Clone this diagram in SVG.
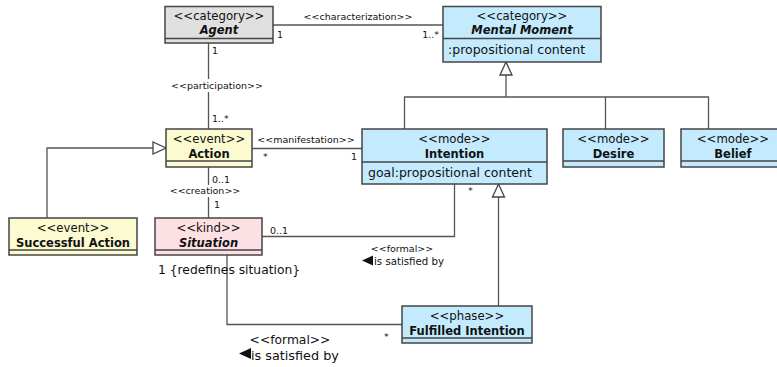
<svg xmlns="http://www.w3.org/2000/svg" width="777" height="367" viewBox="0 0 777 367">
<style>
text{font-family:"DejaVu Sans","Liberation Sans",sans-serif;fill:#111}
.st{font-size:11.7px;text-anchor:middle}
.nm{font-size:11.5px;font-weight:bold;text-anchor:middle}
.it{font-style:italic}
.at{font-size:12.5px}
.lb{font-size:9.5px}
.lbc{font-size:9.5px;text-anchor:middle}
.big{font-size:12.3px}
.box{stroke:#444;stroke-width:1.5}
.gray{fill:#e0e0e0}
.blue{fill:#c3ebfd}
.yel{fill:#fbfad0}
.pink{fill:#fde0e3}
.ln{fill:none;stroke:#555;stroke-width:1.3}
.tri{fill:#fff;stroke:#444;stroke-width:1.3}
</style>
<rect width="777" height="367" fill="#fff"/>
<g id="connectors">
  <line class="ln" x1="273" y1="25" x2="443" y2="25"/>
  <text class="lbc" x="358" y="20">&lt;&lt;characterization&gt;&gt;</text>
  <text class="lb" x="277" y="38">1</text>
  <text class="lb" x="439" y="38" text-anchor="end">1..*</text>
  <line class="ln" x1="208.5" y1="43" x2="208.5" y2="129"/>
  <rect x="170" y="79" width="94" height="13" fill="#fff"/>
  <text class="lbc" x="217" y="89">&lt;&lt;participation&gt;&gt;</text>
  <text class="lb" x="212" y="54">1</text>
  <text class="lb" x="212" y="122">1..*</text>
  <line class="ln" x1="252" y1="148.5" x2="362" y2="148.5"/>
  <text class="lbc" x="306" y="143">&lt;&lt;manifestation&gt;&gt;</text>
  <text class="lb" x="263" y="160">*</text>
  <text class="lb" x="351" y="160">1</text>
  <line class="ln" x1="208.5" y1="167" x2="208.5" y2="218"/>
  <rect x="169" y="185" width="72" height="12" fill="#fff"/>
  <text class="lbc" x="205" y="194">&lt;&lt;creation&gt;&gt;</text>
  <text class="lb" x="212" y="183">0..1</text>
  <text class="lb" x="214" y="208">1</text>
  <polyline class="ln" points="47,218 47,148 153,148"/>
  <polygon class="tri" points="166,148 153,142 153,154"/>
  <polyline class="ln" points="506,75 506,97"/>
  <polyline class="ln" points="404.5,129 404.5,97 708.5,97 708.5,129"/>
  <line class="ln" x1="605.5" y1="97" x2="605.5" y2="129"/>
  <polygon class="tri" points="506,62 500,75 512,75"/>
  <polyline class="ln" points="262,236.5 454.5,236.5 454.5,184"/>
  <text class="lb" x="270" y="234">0..1</text>
  <text class="lb" x="468" y="194">*</text>
  <text class="lbc" x="402" y="252">&lt;&lt;formal&gt;&gt;</text>
  <polygon points="362,260.5 373,255.5 373,265.5" fill="#111"/>
  <text x="374" y="265" style="font-size:10.2px">is satisfied by</text>
  <line class="ln" x1="498.5" y1="197" x2="498.5" y2="306"/>
  <polygon class="tri" points="498.5,184 492.5,197 504.5,197"/>
  <polyline class="ln" points="227,255 227,324.5 402,324.5"/>
  <text class="big" x="158" y="274">1 {redefines situation}</text>
  <text class="lb" x="384" y="340">*</text>
  <text class="big" x="290" y="344" text-anchor="middle">&lt;&lt;formal&gt;&gt;</text>
  <polygon points="239,353.5 251,348 251,359" fill="#111"/>
  <text x="251" y="360" style="font-size:12.8px">is satisfied by</text>
</g>
<g id="agent">
  <rect class="box gray" x="165" y="6.5" width="108" height="36.5"/>
  <line class="box" x1="165" y1="38.5" x2="273" y2="38.5"/>
  <text class="st" x="219" y="20">&lt;&lt;category&gt;&gt;</text>
  <text class="nm it" x="219" y="34">Agent</text>
</g>
<g id="mental-moment">
  <rect class="box blue" x="443" y="6.5" width="158" height="55.5"/>
  <line class="box" x1="443" y1="38.5" x2="601" y2="38.5"/>
  <text class="st" x="522" y="20">&lt;&lt;category&gt;&gt;</text>
  <text class="nm it" x="522" y="34">Mental Moment</text>
  <text class="at" x="448" y="54">:propositional content</text>
</g>
<g id="action">
  <rect class="box yel" x="166" y="129" width="86" height="38"/>
  <line class="box" x1="166" y1="161" x2="252" y2="161"/>
  <text class="st" x="209" y="142.5">&lt;&lt;event&gt;&gt;</text>
  <text class="nm" x="209" y="157.5">Action</text>
</g>
<g id="intention">
  <rect class="box blue" x="362" y="129" width="185" height="55"/>
  <line class="box" x1="362" y1="162" x2="547" y2="162"/>
  <text class="st" x="454.5" y="142.5">&lt;&lt;mode&gt;&gt;</text>
  <text class="nm" x="454.5" y="157.5">Intention</text>
  <text class="at" x="368" y="177">goal:propositional content</text>
</g>
<g id="desire">
  <rect class="box blue" x="563" y="129" width="101" height="38"/>
  <line class="box" x1="563" y1="161" x2="664" y2="161"/>
  <text class="st" x="613.5" y="142.5">&lt;&lt;mode&gt;&gt;</text>
  <text class="nm" x="613.5" y="157.5">Desire</text>
</g>
<g id="belief">
  <rect class="box blue" x="681" y="129" width="105" height="38"/>
  <line class="box" x1="681" y1="161" x2="786" y2="161"/>
  <text class="st" x="733" y="142.5">&lt;&lt;mode&gt;&gt;</text>
  <text class="nm" x="733" y="157.5">Belief</text>
</g>
<g id="successful-action">
  <rect class="box yel" x="9" y="218" width="128" height="37"/>
  <line class="box" x1="9" y1="250" x2="137" y2="250"/>
  <text class="st" x="73" y="231.5">&lt;&lt;event&gt;&gt;</text>
  <text class="nm" x="73" y="246.5">Successful Action</text>
</g>
<g id="situation">
  <rect class="box pink" x="155" y="218" width="107" height="37"/>
  <line class="box" x1="155" y1="250" x2="262" y2="250"/>
  <text class="st" x="208.5" y="231.5">&lt;&lt;kind&gt;&gt;</text>
  <text class="nm it" x="208.5" y="246.5">Situation</text>
</g>
<g id="fulfilled-intention">
  <rect class="box blue" x="402" y="306" width="130" height="37"/>
  <line class="box" x1="402" y1="338" x2="532" y2="338"/>
  <text class="st" x="467" y="319.5">&lt;&lt;phase&gt;&gt;</text>
  <text class="nm" x="467" y="334.5">Fulfilled Intention</text>
</g>
</svg>
